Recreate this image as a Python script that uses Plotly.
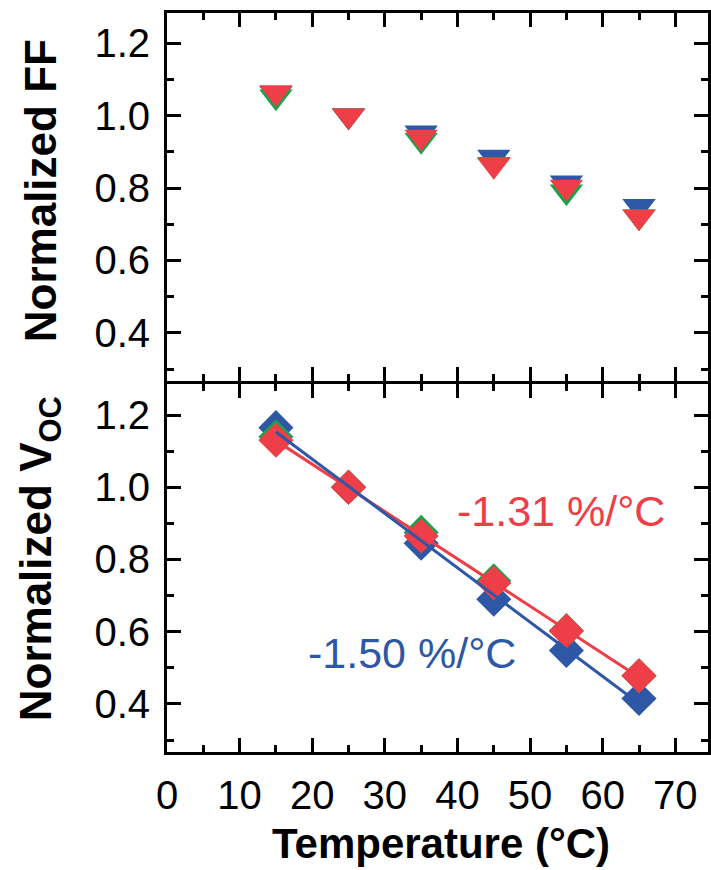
import numpy as np
import plotly.graph_objects as go
from plotly.subplots import make_subplots

# ---- data ----
temperature = [15, 25, 35, 45, 55, 65]

ff_blue = [1.062, 1.0, 0.953, 0.886, 0.815, 0.750]
ff_green = [1.052, 1.0, 0.932, 0.866, 0.790, 0.721]
ff_red = [1.064, 1.0, 0.941, 0.863, 0.803, 0.721]

voc_blue = [1.165, 1.0, 0.845, 0.690, 0.548, 0.415]
voc_green = [1.140, 1.0, 0.875, 0.741, 0.603, 0.478]
voc_red = [1.130, 1.0, 0.865, 0.735, 0.602, 0.478]

x_ticks = [0, 10, 20, 30, 40, 50, 60, 70]
y_ticks = [0.4, 0.6, 0.8, 1.0, 1.2]

label_red = "-1.31 %/°C"
label_blue = "-1.50 %/°C"

BLUE = "#2E57A6"
GREEN = "#17A34A"
RED = "#EE3E47"
FONT = "Liberation Sans, Arial, sans-serif"

fig = make_subplots(rows=2, cols=1, shared_xaxes=True, vertical_spacing=0.004)

# top panel: normalized FF
for ys, c in [(ff_blue, BLUE), (ff_green, GREEN), (ff_red, RED)]:
    fig.add_trace(go.Scatter(x=temperature, y=ys, mode="markers",
                             marker=dict(symbol="triangle-down", size=29, color=c,
                                         line=dict(width=0)),
                             showlegend=False), row=1, col=1)

# bottom panel: normalized Voc
for ys, c in [(voc_blue, BLUE), (voc_green, GREEN), (voc_red, RED)]:
    fig.add_trace(go.Scatter(x=temperature, y=ys, mode="markers",
                             marker=dict(symbol="diamond", size=27, color=c,
                                         line=dict(width=0)),
                             showlegend=False), row=2, col=1)

# linear fits
t = np.array(temperature, dtype=float)
for ys, c in [(voc_red, RED), (voc_blue, BLUE)]:
    k, b = np.polyfit(t, np.array(ys), 1)
    xf = np.array([t.min(), t.max()])
    fig.add_trace(go.Scatter(x=xf, y=k * xf + b, mode="lines",
                             line=dict(color=c, width=3), showlegend=False),
                  row=2, col=1)

axis_common = dict(showline=True, linecolor="black", linewidth=3, mirror="ticks",
                   ticks="inside", ticklen=14, tickwidth=3, tickcolor="black",
                   showgrid=False, zeroline=False,
                   tickfont=dict(family=FONT, size=40, color="black"))

xcommon = dict(axis_common, range=[0, 74.5], tickvals=x_ticks,
               minor=dict(dtick=5, tick0=0, ticks="inside", ticklen=7, tickwidth=3,
                          tickcolor="black", showgrid=False))
fig.update_xaxes(**xcommon)
fig.update_xaxes(showticklabels=False, row=1, col=1)
fig.update_xaxes(ticklabelstandoff=6, row=2, col=1)

ycommon = dict(axis_common, tickvals=y_ticks, ticktext=[f"{v:.1f}" for v in y_ticks],
               ticklabelstandoff=6,
               minor=dict(dtick=0.1, tick0=0, ticks="inside", ticklen=7, tickwidth=3,
                          tickcolor="black", showgrid=False))
fig.update_yaxes(**ycommon)
fig.update_yaxes(range=[0.2666, 1.2837], domain=[0.5018, 1.0], row=1, col=1)
fig.update_yaxes(range=[0.2671, 1.2853], domain=[0.0, 0.4977], row=2, col=1)

annos = [
    dict(text=label_red, x=54.3, y=0.934, xref="x2", yref="y2", showarrow=False,
         xanchor="center", yanchor="middle",
         font=dict(family=FONT, size=43, color=RED)),
    dict(text=label_blue, x=33.7, y=0.542, xref="x2", yref="y2", showarrow=False,
         xanchor="center", yanchor="middle",
         font=dict(family=FONT, size=43, color=BLUE)),
    dict(text="<b>Normalized FF</b>", x=-0.235, y=0.76, xref="paper", yref="paper",
         showarrow=False, textangle=-90, xanchor="center", yanchor="middle",
         font=dict(family=FONT, size=44, color="black")),
    dict(text="<b>Normalized V<sub>OC</sub></b>", x=-0.235, y=0.262, xref="paper",
         yref="paper", showarrow=False, textangle=-90, xanchor="center",
         yanchor="middle", font=dict(family=FONT, size=44, color="black")),
    dict(text="<b>Temperature (°C)</b>", x=0.506, y=-0.124, xref="paper", yref="paper",
         showarrow=False, xanchor="center", yanchor="middle",
         font=dict(family=FONT, size=42, color="black")),
]
fig.update_layout(annotations=annos)

fig.update_layout(width=711, height=870,
                  margin=dict(l=167, r=0, t=13, b=118, pad=0),
                  paper_bgcolor="white", plot_bgcolor="white",
                  showlegend=False)

fig.write_html("out.html")
